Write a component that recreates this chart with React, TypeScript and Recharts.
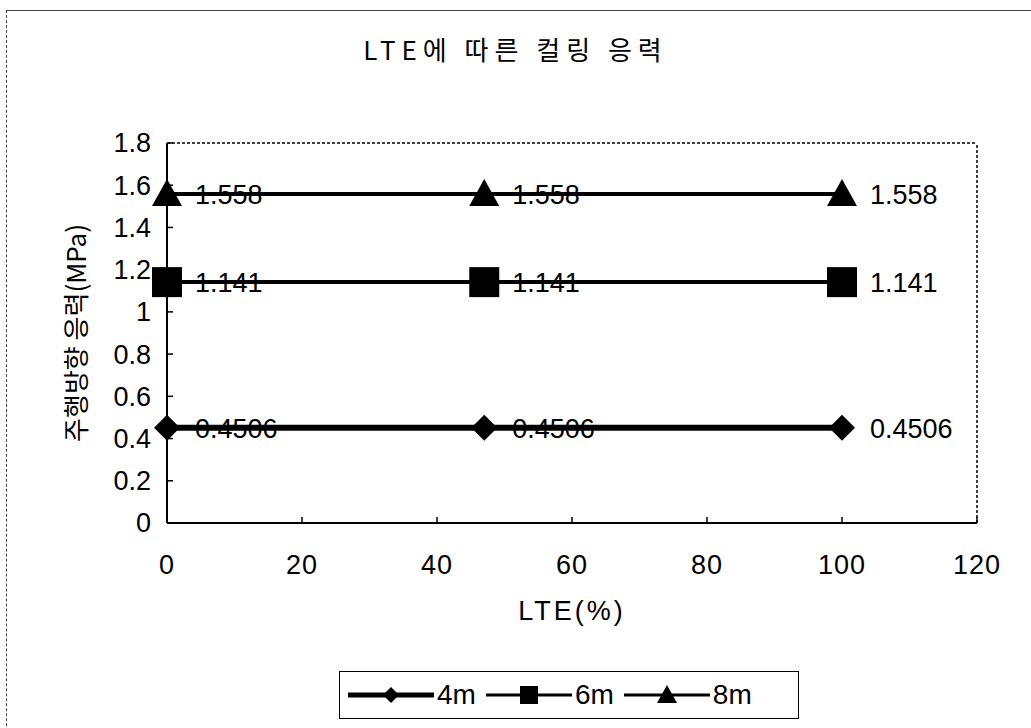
import { LineChart, Line, XAxis, YAxis, ReferenceLine, LabelList } from 'recharts';

const lte = [0, 47, 100];
const stress4m = [0.4506, 0.4506, 0.4506];
const stress6m = [1.141, 1.141, 1.141];
const stress8m = [1.558, 1.558, 1.558];
const xTicks = [0, 20, 40, 60, 80, 100, 120];
const yTicks = [0, 0.2, 0.4, 0.6, 0.8, 1, 1.2, 1.4, 1.6, 1.8];
const seriesNames = ['4m', '6m', '8m'];

const data = lte.map((x, i) => ({
  lte: x,
  s4: stress4m[i],
  s6: stress6m[i],
  s8: stress8m[i],
}));

const numFont = '"Liberation Sans", Arial, sans-serif';
const krFont = '"Noto Sans CJK KR", "Liberation Sans", sans-serif';

function Diamond({ cx, cy, s = 13 }: any) {
  if (cx == null || cy == null) return null;
  return <path d={`M${cx},${cy - s} L${cx + s},${cy} L${cx},${cy + s} L${cx - s},${cy} Z`} fill="#000" />;
}

function Square({ cx, cy, s = 15 }: any) {
  if (cx == null || cy == null) return null;
  return <rect x={cx - s} y={cy - s} width={s * 2} height={s * 2} fill="#000" />;
}

function Triangle({ cx, cy, s = 15 }: any) {
  if (cx == null || cy == null) return null;
  return <path d={`M${cx},${cy - s} L${cx + s},${cy + s * 0.8} L${cx - s},${cy + s * 0.8} Z`} fill="#000" />;
}

function XTick({ x, y, payload }: any) {
  return (
    <g>
      <line x1={x} y1={y} x2={x} y2={y - 6} stroke="#000" strokeWidth={1.5} />
      <text x={x} y={y + 42} textAnchor="middle" dy="0.35em" fontSize={27} letterSpacing={1} fontFamily={numFont} fill="#000">
        {payload.value}
      </text>
    </g>
  );
}

function YTick({ x, y, payload }: any) {
  return (
    <g>
      <line x1={x} y1={y} x2={x + 6} y2={y} stroke="#000" strokeWidth={1.5} />
      <text x={x - 16} y={y} textAnchor="end" dy="0.35em" fontSize={27} fontFamily={numFont} fill="#000">
        {payload.value}
      </text>
    </g>
  );
}

function ValueLabel({ x, y, value }: any) {
  return (
    <text x={x + 28} y={y} dy="0.38em" fontSize={27} fontFamily={numFont} fill="#000">
      {value}
    </text>
  );
}

const legendMarkers = [
  (cx: number, cy: number) => <Diamond cx={cx} cy={cy} s={8} />,
  (cx: number, cy: number) => <Square cx={cx} cy={cy} s={9} />,
  (cx: number, cy: number) => <Triangle cx={cx} cy={cy} s={10} />,
];
const legendWidths = [5, 3, 3];

function ChartLegend() {
  return (
    <div
      style={{
        position: 'absolute',
        left: 339,
        top: 671,
        width: 460,
        height: 48,
        border: '1.5px solid #000',
        display: 'flex',
        alignItems: 'center',
        paddingLeft: 8,
        boxSizing: 'border-box',
      }}
    >
      {seriesNames.map((name, i) => (
        <div key={name} style={{ display: 'flex', alignItems: 'center', marginRight: 10 }}>
          <svg width={86} height={30}>
            <line x1={0} y1={15} x2={86} y2={15} stroke="#000" strokeWidth={legendWidths[i]} />
            {legendMarkers[i](43, 15)}
          </svg>
          <span style={{ fontFamily: numFont, fontSize: 28, marginLeft: 3 }}>{name}</span>
        </div>
      ))}
    </div>
  );
}

export default function App() {
  return (
    <div style={{ position: 'absolute', left: 0, top: 0, width: 1031, height: 728, background: '#fff', overflow: 'hidden' }}>
      <div
        style={{
          position: 'absolute',
          left: 6,
          top: 10,
          width: 1100,
          height: 800,
          borderTop: '1.5px solid #444',
          borderLeft: '1.5px dashed #444',
        }}
      />
      <div
        style={{
          position: 'absolute',
          top: 30,
          left: 0,
          width: 1031,
          textAlign: 'center',
          fontFamily: krFont,
          fontSize: 26,
          letterSpacing: 6,
          color: '#000',
        }}
      >
        LTE에 따른 컬링 응력
      </div>
      <div style={{ position: 'absolute', left: 0, top: 0 }}>
        <LineChart width={1031} height={650} data={data} margin={{ top: 143, right: 54, bottom: 0, left: 0 }}>
          <XAxis
            dataKey="lte"
            type="number"
            domain={[0, 120]}
            ticks={xTicks}
            tick={<XTick />}
            tickLine={false}
            tickSize={0}
            tickMargin={0}
            height={127}
            stroke="#000"
            strokeWidth={2}
            label={{
              value: 'LTE(%)',
              position: 'insideTop',
              offset: 78,
              fontSize: 27,
              letterSpacing: 3,
              fontFamily: numFont,
              fill: '#000',
            }}
          />
          <YAxis
            type="number"
            domain={[0, 1.8]}
            ticks={yTicks}
            tick={<YTick />}
            tickLine={false}
            tickSize={0}
            tickMargin={0}
            width={167}
            stroke="#000"
            strokeWidth={2}
            label={{
              value: '주행방향 응력(MPa)',
              angle: -90,
              position: 'center',
              dx: -7,
              fontSize: 26,
              fontFamily: krFont,
              fill: '#000',
            }}
          />
          <ReferenceLine y={1.8} stroke="#000" strokeDasharray="3 2" strokeWidth={1.5} />
          <ReferenceLine x={120} stroke="#000" strokeDasharray="3 2" strokeWidth={1.5} />
          <Line dataKey="s4" name="4m" stroke="#000" strokeWidth={6} dot={<Diamond />} isAnimationActive={false}>
            <LabelList dataKey="s4" content={<ValueLabel />} />
          </Line>
          <Line dataKey="s6" name="6m" stroke="#000" strokeWidth={4} dot={<Square />} isAnimationActive={false}>
            <LabelList dataKey="s6" content={<ValueLabel />} />
          </Line>
          <Line dataKey="s8" name="8m" stroke="#000" strokeWidth={4} dot={<Triangle />} isAnimationActive={false}>
            <LabelList dataKey="s8" content={<ValueLabel />} />
          </Line>
        </LineChart>
      </div>
      <ChartLegend />
    </div>
  );
}
